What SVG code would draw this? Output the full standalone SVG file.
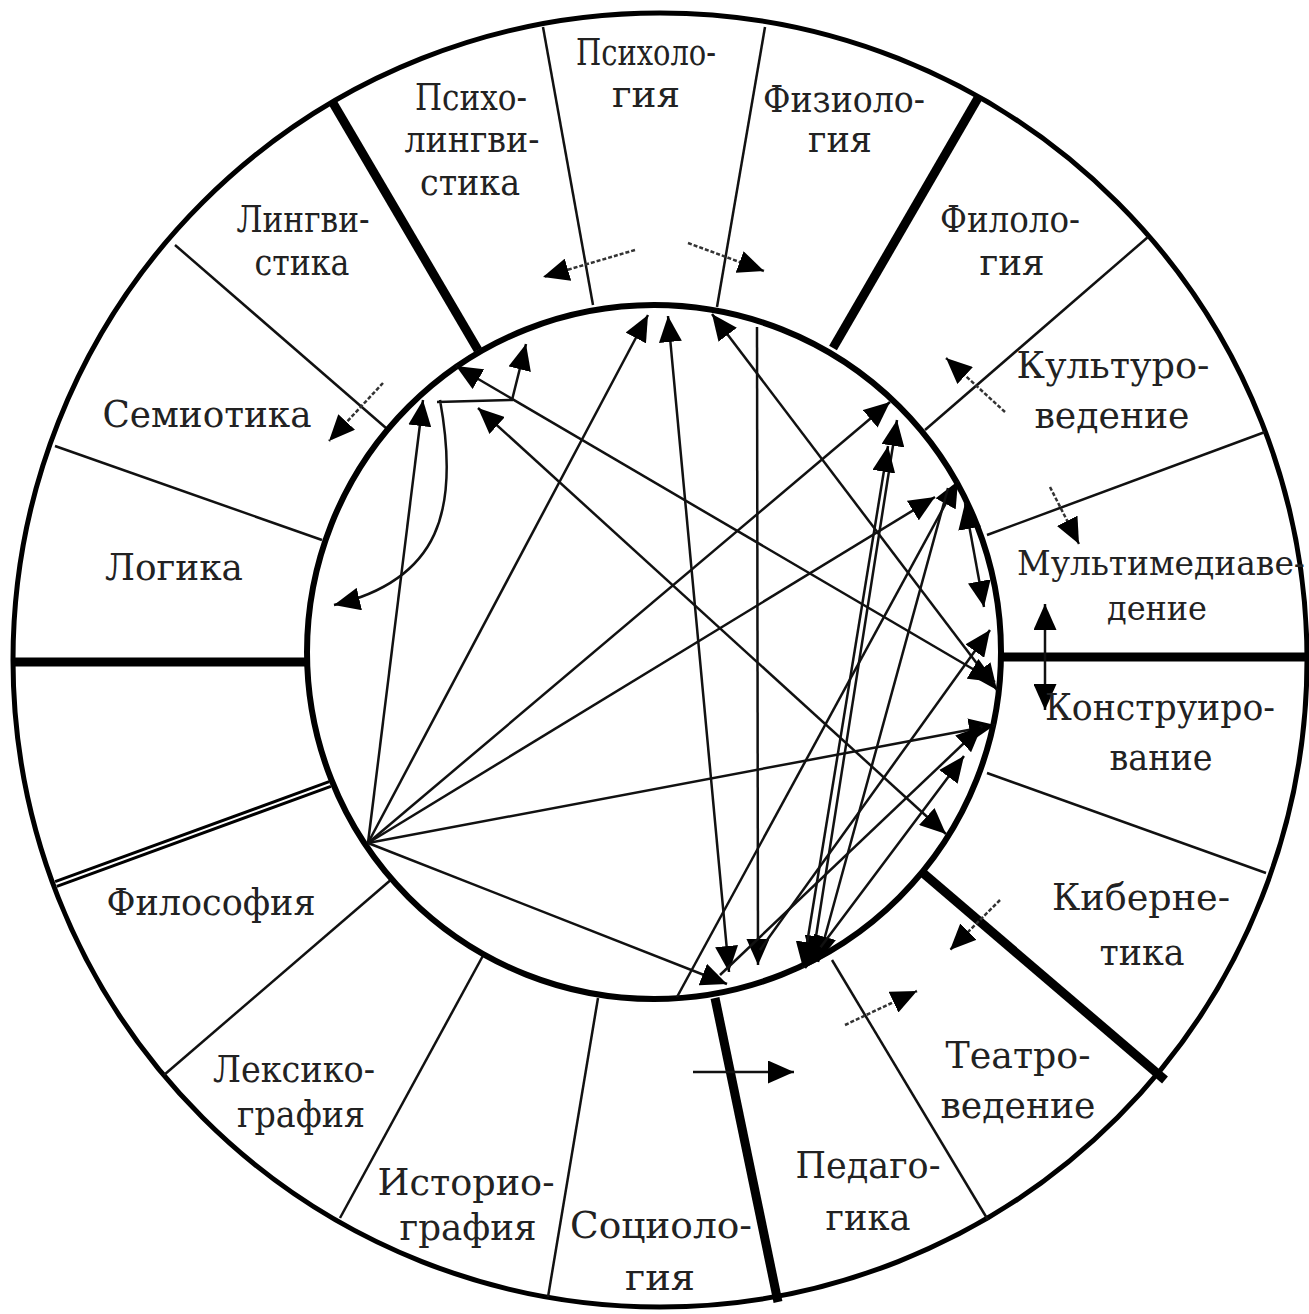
<svg xmlns="http://www.w3.org/2000/svg" width="1309" height="1314" viewBox="0 0 1309 1314">
<style>
.thin{stroke:#111;stroke-width:2.5;fill:none}
.thick{stroke:#000;stroke-width:9;fill:none}
.ca{stroke:#111;stroke-width:2.5;fill:none;marker-end:url(#ah)}
.cb{stroke:#111;stroke-width:2.5;fill:none;marker-end:url(#ah);marker-start:url(#ah)}
.o{stroke:#333;stroke-width:2.5;fill:none;stroke-dasharray:4 2;marker-end:url(#ah)}
text{font-family:"DejaVu Serif","Liberation Serif",serif;font-size:37px;fill:#222;text-anchor:middle}
</style>
<defs>
<marker id="ah" viewBox="0 0 20 18" refX="20" refY="9" markerWidth="26" markerHeight="23" markerUnits="userSpaceOnUse" orient="auto-start-reverse" preserveAspectRatio="none"><path d="M0,0 L20,9 L0,18 z" fill="#000"/></marker>
</defs>
<rect width="1309" height="1314" fill="#fff"/>
<g id="ring">
<circle cx="660" cy="660" r="647" fill="#fff" stroke="#000" stroke-width="5"/>
</g>
<g id="spokes">
<line class="thick" x1="13" y1="662" x2="308" y2="662"/>
<line x1="330" y1="784" x2="56" y2="884" stroke="#000" stroke-width="8"/>
<line x1="330" y1="784" x2="56" y2="884" stroke="#fff" stroke-width="2"/>
<line class="thin" x1="393" y1="878" x2="164" y2="1075"/>
<line class="thin" x1="485" y1="952" x2="340" y2="1218"/>
<line class="thin" x1="598" y1="998" x2="548" y2="1297"/>
<line class="thick" x1="715" y1="998" x2="778" y2="1302"/>
<line class="thin" x1="832" y1="960" x2="988" y2="1220"/>
<line class="thick" x1="923" y1="873" x2="1165" y2="1080"/>
<line class="thin" x1="987" y1="773" x2="1266" y2="873"/>
<line class="thick" x1="1000" y1="657" x2="1309" y2="657"/>
<line class="thin" x1="987" y1="535" x2="1265" y2="432"/>
<line class="thin" x1="925" y1="430" x2="1148" y2="237"/>
<line class="thick" x1="833" y1="348" x2="978" y2="98"/>
<line class="thin" x1="717" y1="307" x2="765" y2="27"/>
<line class="thin" x1="593" y1="305" x2="543" y2="27"/>
<line class="thick" x1="478" y1="350" x2="333" y2="103"/>
<line class="thin" x1="386" y1="428" x2="175" y2="245"/>
<line class="thin" x1="322" y1="540" x2="55" y2="446"/>
</g>
<g id="inner">
<circle cx="654" cy="652" r="347" fill="#fff" stroke="#000" stroke-width="6"/>
</g>
<g id="connectors">
<line class="ca" x1="368" y1="843" x2="423" y2="400"/>
<line class="ca" x1="368" y1="843" x2="648" y2="315"/>
<line class="ca" x1="368" y1="843" x2="890" y2="402"/>
<line class="ca" x1="368" y1="843" x2="935" y2="497"/>
<line class="ca" x1="368" y1="843" x2="995" y2="725"/>
<line class="ca" x1="368" y1="843" x2="727" y2="984"/>
<line class="cb" x1="668" y1="316" x2="729" y2="972"/>
<line class="ca" x1="757" y1="327" x2="758" y2="965"/>
<line class="cb" x1="997" y1="690" x2="712" y2="314"/>
<line class="cb" x1="995" y1="682" x2="456" y2="366"/>
<line class="cb" x1="946" y1="834" x2="478" y2="408"/>
<path class="cb" d="M526,344 L512,400 L437,402 M440,400 C460,510 440,580 334,605"/>
<line class="ca" x1="677" y1="997" x2="958" y2="481"/>
<line class="cb" x1="965" y1="503" x2="984" y2="607"/>
<line class="cb" x1="812" y1="962" x2="897" y2="420"/>
<line class="cb" x1="803" y1="968" x2="888" y2="446"/>
<line class="ca" x1="948" y1="488" x2="818" y2="962"/>
<line class="cb" x1="805" y1="968" x2="964" y2="756"/>
<line class="ca" x1="720" y1="975" x2="982" y2="726"/>
<line class="ca" x1="760" y1="950" x2="990" y2="630"/>
</g>
<g id="outer-arrows">
<line class="o" x1="635" y1="250" x2="543" y2="277"/>
<line class="o" x1="688" y1="243" x2="764" y2="271"/>
<line class="o" x1="383" y1="383" x2="329" y2="441"/>
<line class="o" x1="1005" y1="412" x2="946" y2="358"/>
<line class="o" x1="1050" y1="487" x2="1079" y2="544"/>
<line class="cb" x1="1045" y1="604" x2="1045" y2="710"/>
<line class="o" x1="1000" y1="900" x2="950" y2="950"/>
<line class="o" x1="845" y1="1025" x2="917" y2="991"/>
<line class="ca" x1="693" y1="1072" x2="794" y2="1072"/>
</g>
<g id="labels">
<text x="646" y="65" textLength="140" lengthAdjust="spacingAndGlyphs">Психоло-</text>
<text x="646" y="107" textLength="68" lengthAdjust="spacingAndGlyphs">гия</text>
<text x="471" y="110" textLength="112" lengthAdjust="spacingAndGlyphs">Психо-</text>
<text x="472" y="152" textLength="135" lengthAdjust="spacingAndGlyphs">лингви-</text>
<text x="470" y="195" textLength="100" lengthAdjust="spacingAndGlyphs">стика</text>
<text x="844" y="112" textLength="162" lengthAdjust="spacingAndGlyphs">Физиоло-</text>
<text x="840" y="152" textLength="64" lengthAdjust="spacingAndGlyphs">гия</text>
<text x="303" y="232" textLength="133" lengthAdjust="spacingAndGlyphs">Лингви-</text>
<text x="302" y="275" textLength="95" lengthAdjust="spacingAndGlyphs">стика</text>
<text x="1010" y="232" textLength="140" lengthAdjust="spacingAndGlyphs">Филоло-</text>
<text x="1012" y="275" textLength="65" lengthAdjust="spacingAndGlyphs">гия</text>
<text x="1113" y="378" textLength="193" lengthAdjust="spacingAndGlyphs">Культуро-</text>
<text x="1112" y="428" textLength="155" lengthAdjust="spacingAndGlyphs">ведение</text>
<text x="207" y="427" textLength="209" lengthAdjust="spacingAndGlyphs">Семиотика</text>
<text x="1161" y="575" textLength="288" lengthAdjust="spacingAndGlyphs" style="font-size:33px">Мультимедиаве-</text>
<text x="1157" y="620" textLength="100" lengthAdjust="spacingAndGlyphs" style="font-size:33px">дение</text>
<text x="174" y="580" textLength="138" lengthAdjust="spacingAndGlyphs">Логика</text>
<text x="1160" y="720" textLength="230" lengthAdjust="spacingAndGlyphs">Конструиро-</text>
<text x="1161" y="770" textLength="103" lengthAdjust="spacingAndGlyphs">вание</text>
<text x="211" y="915" textLength="209" lengthAdjust="spacingAndGlyphs">Философия</text>
<text x="1141" y="910" textLength="178" lengthAdjust="spacingAndGlyphs">Киберне-</text>
<text x="1142" y="965" textLength="85" lengthAdjust="spacingAndGlyphs">тика</text>
<text x="1018" y="1068" textLength="145" lengthAdjust="spacingAndGlyphs">Театро-</text>
<text x="1018" y="1118" textLength="155" lengthAdjust="spacingAndGlyphs">ведение</text>
<text x="294" y="1082" textLength="162" lengthAdjust="spacingAndGlyphs">Лексико-</text>
<text x="301" y="1127" textLength="128" lengthAdjust="spacingAndGlyphs">графия</text>
<text x="466" y="1195" textLength="177" lengthAdjust="spacingAndGlyphs">Историо-</text>
<text x="468" y="1240" textLength="137" lengthAdjust="spacingAndGlyphs">графия</text>
<text x="868" y="1178" textLength="145" lengthAdjust="spacingAndGlyphs">Педаго-</text>
<text x="868" y="1230" textLength="85" lengthAdjust="spacingAndGlyphs">гика</text>
<text x="661" y="1238" textLength="182" lengthAdjust="spacingAndGlyphs">Социоло-</text>
<text x="660" y="1290" textLength="70" lengthAdjust="spacingAndGlyphs">гия</text>
</g>
</svg>
